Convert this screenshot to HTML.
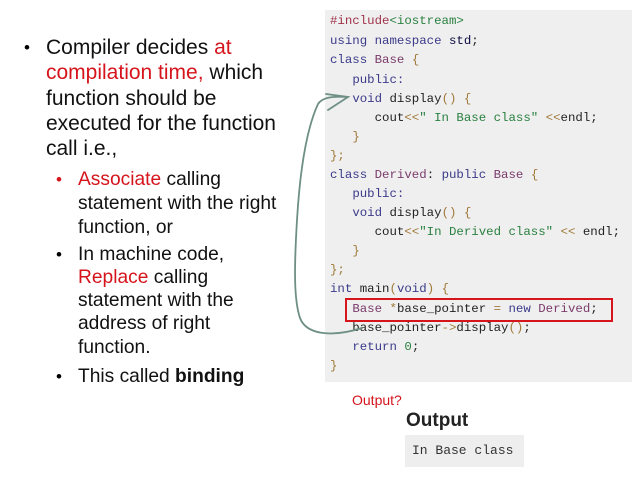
<!DOCTYPE html>
<html><head><meta charset="utf-8"><style>
body{margin:0;width:638px;height:478px;background:#fff;position:relative;overflow:hidden;font-family:"Liberation Sans",Arial,sans-serif}
.t{position:absolute;white-space:pre;color:#111}
.m{font-size:21px;left:46px;line-height:22px}
.s{font-size:19.2px;left:78px;line-height:20px}
.b{position:absolute;font-size:17px}
.r{color:#d5141c}
#code{position:absolute;left:325px;top:10px;width:307px;height:372px;background:#efefef}
.c{position:absolute;left:330px;font-family:"Liberation Mono",monospace;font-size:12.4px;white-space:pre;color:#222;line-height:16px}
.k{color:#3a3a8a}.p{color:#a07a3a}.g{color:#2a8040}.v{color:#7a3a6a}.n{color:#0a0a40}.pp{color:#a0324a}
</style></head><body>
<div class="t m" style="top:37px">Compiler decides <span class="r">at</span></div>
<div class="t m" style="top:62px"><span class="r">compilation time,</span> which</div>
<div class="t m" style="top:88px">function should be</div>
<div class="t m" style="top:113px">executed for the function</div>
<div class="t m" style="top:138px">call i.e.,</div>
<div class="b" style="left:24px;top:38px">•</div>
<div class="b r" style="left:56px;top:170px">•</div>
<div class="b" style="left:56px;top:245px">•</div>
<div class="b" style="left:56px;top:367px">•</div>
<div class="t s" style="top:170px"><span class="r">Associate</span> calling</div>
<div class="t s" style="top:194px">statement with the right</div>
<div class="t s" style="top:218px">function, or</div>
<div class="t s" style="top:245px">In machine code,</div>
<div class="t s" style="top:268px"><span class="r">Replace</span> calling</div>
<div class="t s" style="top:291px">statement with the</div>
<div class="t s" style="top:314px">address of right</div>
<div class="t s" style="top:338px">function.</div>
<div class="t s" style="top:367px">This called <b>binding</b></div>
<div id="code"></div>
<div class="c" style="top:13px"><span class="pp">#include</span><span class="g">&lt;iostream&gt;</span></div>
<div class="c" style="top:33px"><span class="k">using namespace</span> <span class="n">std</span>;</div>
<div class="c" style="top:52px"><span class="k">class</span> <span class="v">Base</span> <span class="p">{</span></div>
<div class="c" style="top:72px">   <span class="k">public:</span></div>
<div class="c" style="top:91px">   <span class="k">void</span> display<span class="p">()</span> <span class="p">{</span></div>
<div class="c" style="top:110px">      cout<span class="p">&lt;&lt;</span><span class="g">" In Base class"</span> <span class="p">&lt;&lt;</span>endl;</div>
<div class="c" style="top:129px">   <span class="p">}</span></div>
<div class="c" style="top:148px"><span class="p">};</span></div>
<div class="c" style="top:167px"><span class="k">class</span> <span class="v">Derived</span>: <span class="k">public</span> <span class="v">Base</span> <span class="p">{</span></div>
<div class="c" style="top:186px">   <span class="k">public:</span></div>
<div class="c" style="top:205px">   <span class="k">void</span> display<span class="p">()</span> <span class="p">{</span></div>
<div class="c" style="top:224px">      cout<span class="p">&lt;&lt;</span><span class="g">"In Derived class"</span> <span class="p">&lt;&lt;</span> endl;</div>
<div class="c" style="top:243px">   <span class="p">}</span></div>
<div class="c" style="top:262px"><span class="p">};</span></div>
<div class="c" style="top:281px"><span class="k">int</span> main<span class="p">(</span><span class="k">void</span><span class="p">)</span> <span class="p">{</span></div>
<div class="c" style="top:301px">   <span class="v">Base</span> <span class="p">*</span>base_pointer <span class="p">=</span> <span class="k">new</span> <span class="v">Derived</span>;</div>
<div class="c" style="top:320px">   base_pointer<span class="p">-&gt;</span>display<span class="p">()</span>;</div>
<div class="c" style="top:339px">   <span class="k">return</span> <span class="g">0</span>;</div>
<div class="c" style="top:358px"><span class="p">}</span></div>
<div style="position:absolute;left:345px;top:298px;width:264px;height:20px;border:2px solid #d5141c"></div>
<svg style="position:absolute;left:0;top:0" width="638" height="478"><g fill="none" stroke="#6e8f86" stroke-width="1.8" stroke-linecap="round">
<path d="M348,97 C330,96 322,98 318,104 C306,130 300,170 297,220 C294,270 294,300 300,318 C306,334 330,338 362,328"/>
<path d="M326,94 L348,97 L328,110"/></g></svg>
<div class="t r" style="left:352px;top:392px;font-size:14px">Output?</div>
<div class="t" style="left:406px;top:410px;font-size:19px;font-weight:bold;color:#222">Output</div>
<div style="position:absolute;left:405px;top:435px;width:119px;height:32px;background:#eee"></div>
<div class="c" style="left:412px;top:443px;font-size:13px;color:#333">In Base class</div>
</body></html>
